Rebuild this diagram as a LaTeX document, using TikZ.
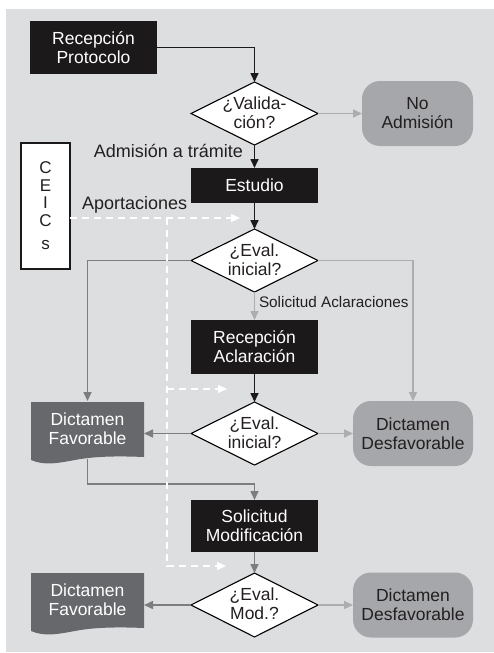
\documentclass[tikz,border=0pt]{standalone}
\usepackage{fontspec}
\setmainfont{Liberation Sans}
\usetikzlibrary{shapes.geometric,arrows.meta}
\definecolor{bgcol}{RGB}{221,222,224}
\definecolor{boxblack}{RGB}{28,25,26}
\definecolor{docgray}{RGB}{103,104,108}
\definecolor{rgray}{RGB}{166,167,170}
\definecolor{dline}{RGB}{125,125,128}
\definecolor{lline}{RGB}{172,173,175}
\definecolor{txtdark}{RGB}{35,31,32}
\newcommand{\dtext}[1]{\smash{\makebox[0pt]{\raisebox{-6pt}{\begin{tabular}{@{}c@{}}#1\end{tabular}}}}}
\tikzset{
  every node/.style={font=\fontsize{17.5}{19}\selectfont, align=center, inner sep=0pt, outer sep=0pt},
  bbox/.style={fill=boxblack, text=white, minimum width=127pt, minimum height=#1},
  bbox/.default=52pt,
  dia/.style={diamond, draw=black, fill=white, line width=1.1pt, minimum width=127pt, minimum height=63pt, text=txtdark},
  rbox/.style={fill=rgray, rounded corners=18pt, minimum width=#1, minimum height=65pt, text=txtdark},
  rbox/.default=120pt,
  docnode/.style={text=white, minimum width=113pt, minimum height=55pt},
  lbl/.style={font=\fontsize{18}{20}\selectfont, text=txtdark},
  slbl/.style={font=\fontsize{15.3}{17}\selectfont, text=txtdark},
  ar/.style={-{Triangle[length=9pt,width=8pt]}, line width=1.6pt},
  blk/.style={ar, draw=boxblack},
  dk/.style={ar, draw=dline},
  lt/.style={ar, draw=lline},
  dsh/.style={draw=white, line width=1.3pt, dash pattern=on 7pt off 5pt},
  dsharrow/.style={dsh, -{Triangle[length=9pt,width=8pt,fill=white]}},
}
\begin{document}
\begin{tikzpicture}[x=1pt, y=-1pt]
\useasboundingbox (0,0) rectangle (494,653);
\fill[bgcol] (6,9) rectangle (494,652);

% document shapes
\newcommand{\docpath}{(31,402) -- (144,402) -- (144,457) .. controls (120,456) and (95,456) .. (75,460) .. controls (58,463) and (45,466) .. (31,460) -- cycle}
\fill[docgray] \docpath;
\fill[docgray, shift={(0,171)}] \docpath;

% nodes
\node[bbox=53pt] (rp) at (93.5,47.5) {Recepción\\Protocolo};
\node[dia] (val) at (254.5,113.5) {\dtext{¿Valida-\\ción?}};
\node[rbox=111pt] (noadm) at (417.5,113.5) {No\\Admisión};
\node[bbox=35pt] (est) at (254.5,185.5) {Estudio};
\node[draw=boxblack, line width=1.2pt, fill=white, minimum width=49pt, minimum height=126pt, font=\fontsize{17}{17.5}\selectfont, text=txtdark] (ceic) at (45.5,206) {C\\E\\I\\C\\[6pt]s};
\node[dia] (ev1) at (254.5,260.5) {\dtext{¿Eval.\\inicial?}};
\node[bbox=54pt] (ra) at (254.5,347) {Recepción\\Aclaración};
\node[dia] (ev2) at (254.5,433.5) {\dtext{¿Eval.\\inicial?}};
\node[docnode] (fav1) at (87.5,428.5) {Dictamen\\Favorable};
\node[rbox] (des1) at (413,433.5) {Dictamen\\Desfavorable};
\node[bbox=52pt] (sm) at (254.5,526) {Solicitud\\Modificación};
\node[dia, minimum height=64pt] (ev3) at (254.5,605) {\dtext{¿Eval.\\Mod.?}};
\node[docnode] (fav2) at (87.5,600) {Dictamen\\Favorable};
\node[rbox] (des2) at (413,605) {Dictamen\\Desfavorable};

% labels
\node[lbl, anchor=base east] (lA) at (243,157) {Admisión a trámite};
\node[lbl, anchor=base west] (lB) at (82,209) {Aportaciones};
\node[slbl, anchor=base west] (lC) at (259,307) {Solicitud Aclaraciones};

% connectors
\draw[blk] (rp.east) -| (val.north);
\draw[lt] (val.east) -- (noadm.west);
\draw[blk] (val.south) -- (est.north);
\draw[blk] (est.south) -- (ev1.north);
\draw[dk] (ev1.west) -| (fav1.north);
\draw[lt] (ev1.east) -| (des1.north);
\draw[lt] (ev1.south) -- (ra.north);
\draw[blk] (ra.south) -- (ev2.north);
\draw[dk] (ev2.west) -- (fav1.east |- ev2.west);
\draw[lt] (ev2.east) -- (des1.west);
\draw[dk] ([yshift=-3pt]fav1.south) -- ++(0,25) -| (sm.north);
\draw[dk] (sm.south) -- (ev3.north);
\draw[dk] (ev3.west) -- (fav2.east |- ev3.west);
\draw[lt] (ev3.east) -- (des2.west);

% dashed contributions
\coordinate (tA) at (240,218);
\coordinate (tB) at (227,389);
\coordinate (tC) at (226,566);
\coordinate (jn) at (167,218);
\draw[dsharrow] (ceic.east |- tA) -- (tA);
\draw[dsharrow] (jn) |- (tC);
\draw[dsharrow] (jn |- tB) -- (tB);
\end{tikzpicture}
\end{document}
